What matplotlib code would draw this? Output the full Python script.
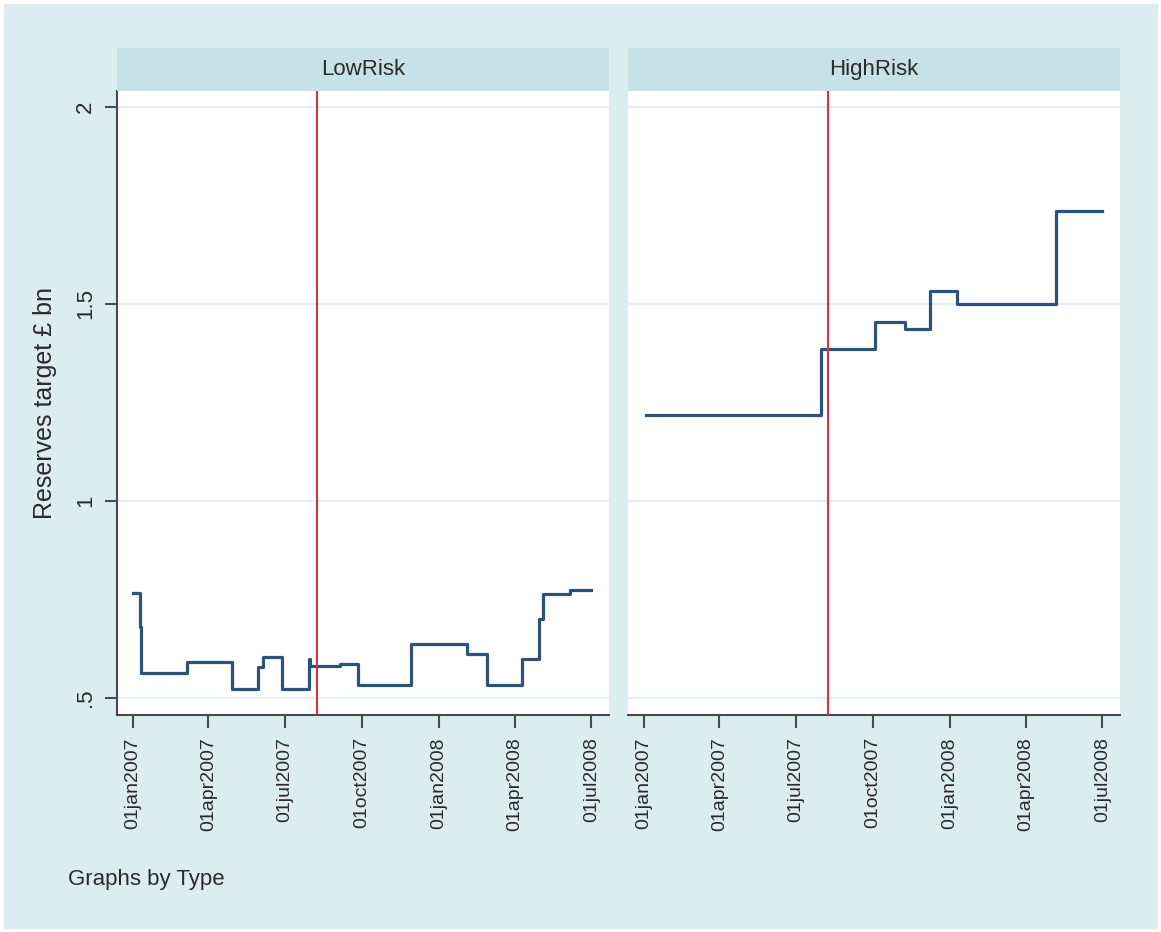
import datetime as dt
import matplotlib
matplotlib.use('Agg')
from matplotlib import pyplot as plt
from matplotlib.patches import Rectangle

plt.rcParams['font.family'] = ['Liberation Sans', 'DejaVu Sans']

# Данные
low_dates = ['2007-01-01', '2007-01-10', '2007-01-11', '2007-03-07', '2007-04-29',
             '2007-05-30', '2007-06-05', '2007-06-28', '2007-07-30', '2007-07-31',
             '2007-09-05', '2007-09-26', '2007-11-29', '2008-02-04', '2008-02-28',
             '2008-04-09', '2008-04-29', '2008-05-04', '2008-06-05', '2008-07-01']
low_vals = [0.767, 0.68, 0.564, 0.591, 0.522,
            0.580, 0.603, 0.522, 0.600, 0.581,
            0.586, 0.533, 0.637, 0.612, 0.533,
            0.599, 0.700, 0.763, 0.774, 0.774]

high_dates = ['2007-01-03', '2007-07-31', '2007-10-04', '2007-11-09',
              '2007-12-08', '2008-01-10', '2008-05-07', '2008-07-01']
high_vals = [1.217, 1.386, 1.454, 1.437, 1.533, 1.500, 1.735, 1.735]

event_date = '2007-08-09'
panels = ['LowRisk', 'HighRisk']
tick_dates = ['2007-01-01', '2007-04-01', '2007-07-01', '2007-10-01',
              '2008-01-01', '2008-04-01', '2008-07-01']
tick_labels = ['01jan2007', '01apr2007', '01jul2007', '01oct2007',
               '01jan2008', '01apr2008', '01jul2008']
y_ticks = [0.5, 1, 1.5, 2]
y_labels = ['.5', '1', '1.5', '2']


def to_dt(lst):
    return [dt.datetime.strptime(s, '%Y-%m-%d') for s in lst]


W, H = 1161, 932
fig = plt.figure(figsize=(W / 100, H / 100), dpi=100, facecolor='white')
bg = '#dcedf0'
fig.patches.append(Rectangle((4 / W, 4 / H), 1 - 8 / W, 1 - 8 / H,
                             transform=fig.transFigure, color=bg, zorder=-10))

line_col = '#2e5378'
red = '#d8343f'
grid_col = '#e6f0f2'
axis_col = '#4a4a4a'
strip_col = '#c6e2e8'
txt_col = '#2a2a2a'

x_lo = dt.datetime(2007, 1, 1) - dt.timedelta(days=19)
x_hi = dt.datetime(2008, 7, 1) + dt.timedelta(days=21)

lefts = [117 / W, 628 / W]
width = 492 / W
bottom = 1 - 715 / H
height = 624 / H
data = [(low_dates, low_vals), (high_dates, high_vals)]

for i, name in enumerate(panels):
    ax = fig.add_axes([lefts[i], bottom, width, height])
    ax.set_facecolor('white')
    d, v = data[i]
    ax.plot(to_dt(d), v, drawstyle='steps-post', color=line_col, lw=2.3, zorder=3)
    ev = dt.datetime.strptime(event_date, '%Y-%m-%d')
    ax.axvline(ev, color=red, lw=1.5, zorder=4)
    for yv in y_ticks:
        ax.axhline(yv, color=grid_col, lw=1.6, zorder=1)
    ax.set_xlim(x_lo, x_hi)
    ax.set_ylim(0.457, 2.04)
    ax.set_xticks(to_dt(tick_dates))
    ax.set_xticklabels(tick_labels, rotation=90, fontsize=14, color=txt_col)
    ax.tick_params(axis='x', length=9, width=1.5, color=axis_col, pad=7)
    for s in ['top', 'right']:
        ax.spines[s].set_visible(False)
    ax.spines['bottom'].set_color(axis_col)
    ax.spines['bottom'].set_linewidth(1.5)
    if i == 0:
        ax.set_yticks(y_ticks)
        ax.set_yticklabels(y_labels, rotation=90, va='center', fontsize=16, color=txt_col)
        ax.tick_params(axis='y', length=9, width=1.5, color=axis_col, pad=6)
        ax.spines['left'].set_color(axis_col)
        ax.spines['left'].set_linewidth(1.5)
        ax.set_ylabel('Reserves target £ bn', fontsize=18, color=txt_col, labelpad=13)
    else:
        ax.set_yticks([])
        ax.spines['left'].set_visible(False)

    # шапка панели
    sax = fig.add_axes([lefts[i], 1 - 91 / H, width, 43 / H])
    sax.set_facecolor(strip_col)
    sax.set_xticks([])
    sax.set_yticks([])
    for s in sax.spines.values():
        s.set_visible(False)
    sax.text(0.5, 0.5, name, ha='center', va='center', fontsize=16,
             color=txt_col, transform=sax.transAxes)

fig.text(68 / W, 1 - 880 / H, 'Graphs by Type', fontsize=16, color=txt_col,
         ha='left', va='center')

fig.savefig('out.png', dpi=100, facecolor=fig.get_facecolor())
